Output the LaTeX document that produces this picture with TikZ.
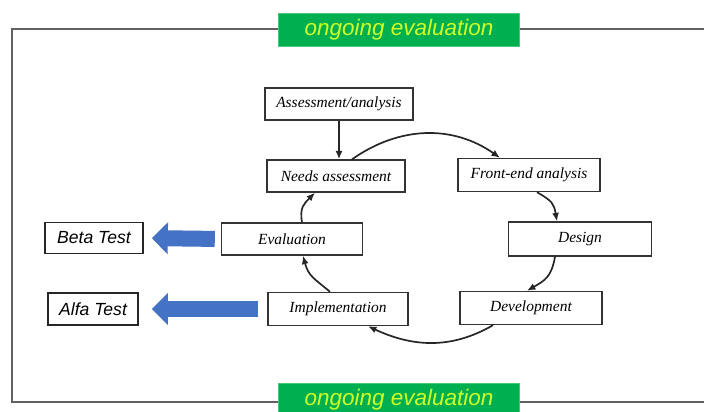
\documentclass[tikz,border=0pt]{standalone}
\usepackage{fontspec}
\setmainfont{Liberation Serif}
\setsansfont{Liberation Sans}
\usetikzlibrary{arrows.meta, calc}
\newdimen\pxu \pxu=0.025cm
\definecolor{barfill}{RGB}{0,176,80}
\definecolor{barline}{RGB}{70,200,120}
\definecolor{bartext}{RGB}{205,255,40}
\definecolor{arrowblue}{RGB}{68,114,196}

\begin{document}
\begin{tikzpicture}[x=0.025cm, y=0.025cm,
    stage/.style={draw=black!80, line width=1pt, fill=white, inner sep=0pt,
        minimum width=141\pxu, minimum height=33\pxu, font=\fontsize{11}{13}\selectfont\itshape},
    testbox/.style={draw=black!85, line width=1.2pt, fill=white, inner sep=0pt,
        minimum height=31\pxu, font=\sffamily\fontsize{12.5}{14}\selectfont\itshape},
    evalbar/.style={draw=barline, line width=0.8pt, fill=barfill, text=bartext,
        minimum width=241\pxu, minimum height=33\pxu, inner sep=0pt,
        font=\sffamily\fontsize{16}{18}\selectfont\itshape},
    cycle/.style={-{Latex[length=6pt,width=5pt]}, line width=1.2pt, black!85},
    bigarrow/.style={line width=0.4cm, draw=arrowblue,
        -{Triangle[length=0.4cm, width=0.78cm]}},
]

    \useasboundingbox (0,0) rectangle (704,-412);
    \clip (0,0) rectangle (704,-412);
    \fill[white] (0,0) rectangle (704,-412);

    % outer frame
    \draw[line width=2pt, black!62] (12,-29) rectangle (730,-402);
    \node[evalbar] (topbar) at (399,-30) {ongoing evaluation};
    \node[evalbar] (botbar) at (399,-400) {ongoing evaluation};

    % cycle stages
    \node[stage, minimum width=148\pxu, minimum height=32\pxu] (assess) at (339,-104) {Assessment/analysis};
    \node[stage, minimum width=138\pxu, minimum height=32\pxu] (needs) at (336,-176) {Needs assessment};
    \node[stage, minimum width=142\pxu] (front) at (529,-175) {Front-end analysis};
    \node[stage, minimum width=143\pxu, minimum height=34\pxu] (design) at (580,-239) {Design};
    \node[stage, minimum width=142\pxu] (devel) at (531,-308) {Development};
    \node[stage, minimum width=140\pxu] (impl) at (338,-309) {Implementation};
    \node[stage, minimum width=141\pxu, minimum height=32\pxu] (evalu) at (292,-239) {Evaluation};

    % test boxes
    \node[testbox, minimum width=98\pxu] (beta) at (94,-238) {Beta Test};
    \node[testbox, minimum width=90\pxu, minimum height=32\pxu] (alfa) at (93,-309) {Alfa Test};

    % arrows round the cycle
    \draw[cycle] (assess.south) -- (assess.south |- needs.north);
    \draw[cycle] ($(needs.north)+(16,0)$) to[out=35, in=145] ($(front.north)+(-29,0)$);
    \draw[cycle] ($(front.south)+(8,0)$) to[out=-30, in=100, looseness=1.3] ($(design.north)+(-23,0)$);
    \draw[cycle] ($(design.south)+(-25,0)$) to[out=-100, in=30, looseness=1.2] ($(devel.north)+(-4,0)$);
    \draw[cycle] ($(devel.south)+(-38,0)$) to[out=-150, in=-25] ($(impl.south)+(30,0)$);
    \draw[cycle] ($(impl.north)+(-8,0)$) to[out=140, in=-75, looseness=1.2] ($(evalu.south)+(11,0)$);
    \draw[cycle] ($(evalu.north)+(10,0)$) to[out=100, in=-135, looseness=1.2] ($(needs.south)+(-21,0)$);

    % big arrows to the tests
    \draw[bigarrow, shorten <=0.15cm, shorten >=0.2cm] (evalu.west) -- (beta.east);
    \draw[bigarrow, shorten <=0.225cm, shorten >=0.325cm] (impl.west) -- (alfa.east);

\end{tikzpicture}
\end{document}
